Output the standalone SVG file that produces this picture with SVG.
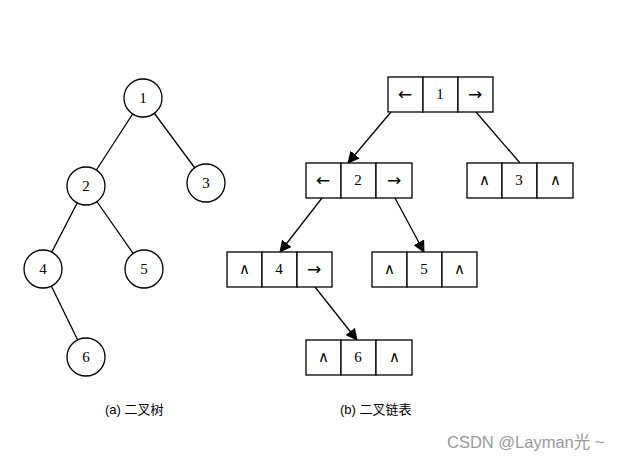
<svg xmlns="http://www.w3.org/2000/svg" width="642" height="462" viewBox="0 0 642 462">
<style>
.c{fill:#fff;stroke:#000;stroke-width:1.3}
.b{fill:#fff;stroke:#000;stroke-width:1.3}
.t{font-family:"Liberation Serif",serif;font-size:15px;text-anchor:middle;dominant-baseline:central}
.s{font-family:"DejaVu Sans",sans-serif;font-size:17px;text-anchor:middle;dominant-baseline:central}
.w{font-family:"DejaVu Sans",sans-serif;font-size:15px;font-weight:200;text-anchor:middle;dominant-baseline:central}
.l{stroke:#000;stroke-width:1.3;fill:none}
.cap{font-family:"Liberation Sans","Noto Sans CJK SC",sans-serif;font-size:13px}
</style>
<defs><marker id="a" markerWidth="12" markerHeight="12" refX="11" refY="6" orient="auto" markerUnits="userSpaceOnUse"><path d="M0,0L12,6L0,12z"/></marker></defs>
<rect width="642" height="462" fill="#fff"/>
<g id="edges">
<line class="l" x1="143" y1="98" x2="86" y2="186"/>
<line class="l" x1="143" y1="98" x2="206" y2="183"/>
<line class="l" x1="86" y1="186" x2="43" y2="269"/>
<line class="l" x1="86" y1="186" x2="144" y2="269"/>
<line class="l" x1="43" y1="269" x2="86" y2="357"/>
<line class="l" x1="391" y1="112" x2="348" y2="163" marker-end="url(#a)"/>
<line class="l" x1="476" y1="112" x2="520" y2="163"/>
<line class="l" x1="322" y1="198" x2="280" y2="252" marker-end="url(#a)"/>
<line class="l" x1="395" y1="198" x2="424" y2="252" marker-end="url(#a)"/>
<line class="l" x1="315" y1="287" x2="357" y2="340" marker-end="url(#a)"/>
</g>
<g id="t1"><circle class="c" cx="143" cy="98" r="19"/><text class="t" x="143" y="98">1</text></g>
<g id="t2"><circle class="c" cx="86" cy="186" r="19"/><text class="t" x="86" y="186">2</text></g>
<g id="t3"><circle class="c" cx="206" cy="183" r="19"/><text class="t" x="206" y="183">3</text></g>
<g id="t4"><circle class="c" cx="43" cy="269" r="19"/><text class="t" x="43" y="269">4</text></g>
<g id="t5"><circle class="c" cx="144" cy="269" r="19"/><text class="t" x="144" y="269">5</text></g>
<g id="t6"><circle class="c" cx="86" cy="357" r="19"/><text class="t" x="86" y="357">6</text></g>
<g id="n1"><rect class="b" x="388" y="77" width="35" height="35"/><rect class="b" x="423" y="77" width="35" height="35"/><rect class="b" x="458" y="77" width="35" height="35"/><text class="s" x="405" y="94">←</text><text class="t" x="440" y="94">1</text><text class="s" x="475" y="94">→</text></g>
<g id="n2"><rect class="b" x="306" y="163" width="35" height="35"/><rect class="b" x="341" y="163" width="35" height="35"/><rect class="b" x="376" y="163" width="36" height="35"/><text class="s" x="323" y="180">←</text><text class="t" x="358" y="180">2</text><text class="s" x="394" y="180">→</text></g>
<g id="n3"><rect class="b" x="467" y="163" width="35" height="35"/><rect class="b" x="502" y="163" width="35" height="35"/><rect class="b" x="537" y="163" width="36" height="35"/><text class="w" x="484" y="180">∧</text><text class="t" x="519" y="180">3</text><text class="w" x="555" y="180">∧</text></g>
<g id="n4"><rect class="b" x="227" y="252" width="35" height="35"/><rect class="b" x="262" y="252" width="35" height="35"/><rect class="b" x="297" y="252" width="35" height="35"/><text class="w" x="244" y="269">∧</text><text class="t" x="279" y="269">4</text><text class="s" x="314" y="269">→</text></g>
<g id="n5"><rect class="b" x="372" y="252" width="35" height="35"/><rect class="b" x="407" y="252" width="35" height="35"/><rect class="b" x="442" y="252" width="35" height="35"/><text class="w" x="389" y="269">∧</text><text class="t" x="424" y="269">5</text><text class="w" x="459" y="269">∧</text></g>
<g id="n6"><rect class="b" x="306" y="340" width="35" height="35"/><rect class="b" x="341" y="340" width="35" height="35"/><rect class="b" x="376" y="340" width="36" height="35"/><text class="w" x="323" y="357">∧</text><text class="t" x="358" y="357">6</text><text class="w" x="394" y="357">∧</text></g>
<text class="cap" x="105" y="414">(a) 二叉树</text>
<text class="cap" x="340" y="414">(b) 二叉链表</text>
<text x="447" y="448" style="font-family:'Liberation Sans','Noto Sans CJK SC',sans-serif;font-size:16.5px;fill:#999">CSDN @Layman光 ~</text>
</svg>
